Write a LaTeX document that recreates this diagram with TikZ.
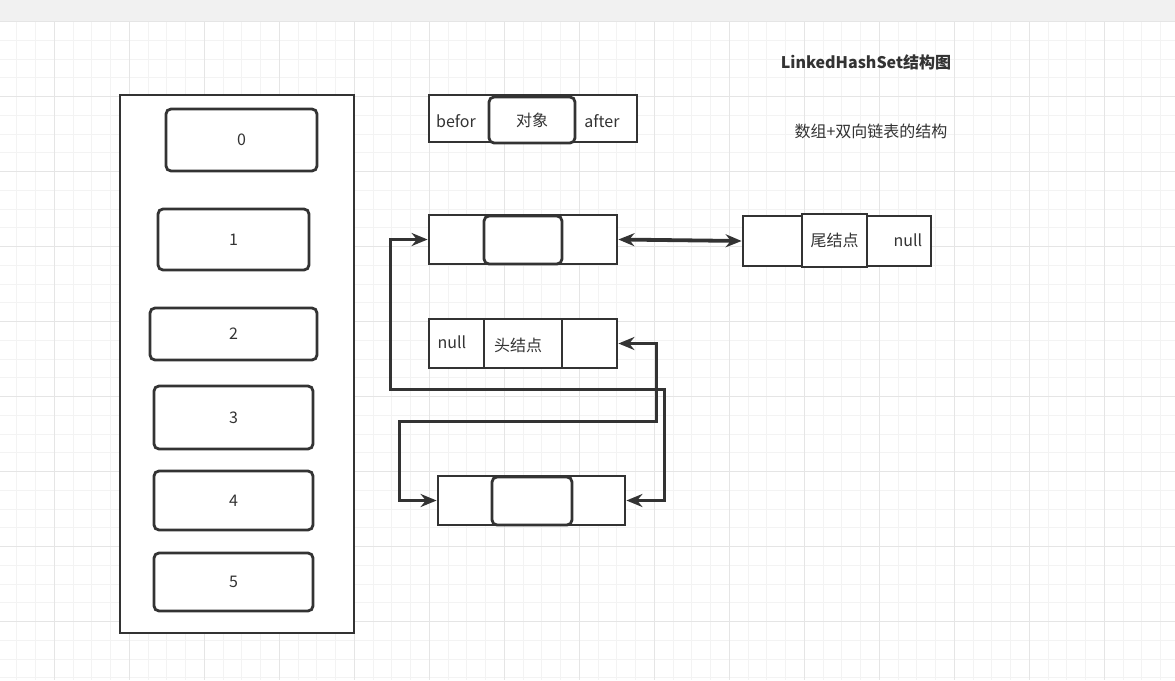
\documentclass[tikz,border=0pt]{standalone}
\usepackage{fontspec}
\setmainfont{Noto Sans CJK SC}
\usepackage{tikz}
\usetikzlibrary{arrows.meta,positioning,calc}
\definecolor{inkcol}{RGB}{51,51,51}
\definecolor{minorcol}{RGB}{243,243,243}
\definecolor{majorcol}{RGB}{229,229,229}
\definecolor{barcol}{RGB}{241,241,241}

\begin{document}
\begin{tikzpicture}[x=1pt,y=-1pt,
  font=\fontsize{16}{19}\selectfont,
  box/.style={draw=inkcol,line width=2.8pt,fill=white,inner sep=0pt,text=inkcol},
  slot/.style={box,rounded corners=5pt},
  core/.style={box,rounded corners=5pt},
  lbl/.style={inner sep=0pt,text=inkcol},
  link/.style={draw=inkcol,line width=2.8pt,
    {Stealth[length=16pt,width=13pt]}-{Stealth[length=16pt,width=13pt]}}]
\useasboundingbox (0,0) rectangle (1175,680);
% canvas grid
\fill[white] (0,0) rectangle (1175,680);
\foreach \i in {0,...,62} \draw[minorcol,line width=1pt] (16.8+18.75*\i,21) -- (16.8+18.75*\i,680);
\foreach \j in {0,...,35} \draw[minorcol,line width=1pt] (0,21.7+18.75*\j) -- (1175,21.7+18.75*\j);
\foreach \i in {0,...,15} \draw[majorcol,line width=1pt] (54.3+75*\i,21) -- (54.3+75*\i,680);
\foreach \j in {0,...,8} \draw[majorcol,line width=1pt] (0,21.7+75*\j) -- (1175,21.7+75*\j);
\fill[barcol] (0,0) rectangle (1175,21);
% hash array
\node[box,minimum width=234pt,minimum height=538pt] (arr) at (237,364) {};
\node[slot,minimum width=151pt,minimum height=62pt] (s0) at (241.5,140) {0};
\node[slot,minimum width=151pt,minimum height=61pt] (s1) at (233.5,239.5) {1};
\node[slot,minimum width=167pt,minimum height=52pt] (s2) at (233.5,334) {2};
\node[slot,minimum width=159pt,minimum height=63pt] (s3) at (233.5,417.5) {3};
\node[slot,minimum width=159pt,minimum height=59pt] (s4) at (233.5,500.5) {4};
\node[slot,minimum width=159pt,minimum height=58pt] (s5) at (233.5,582) {5};
% legend entry
\node[box,minimum width=208pt,minimum height=47pt] (leg) at (533,118.5) {};
\node[core,minimum width=86pt,minimum height=46pt] (legcore) at (532,120) {对象};
\node[lbl] (befor) at (456,121) {befor};
\node[lbl] (after) at (602,121) {after};
% entry linked to the tail
\node[box,minimum width=188pt,minimum height=49pt] (nA) at (523,239.5) {};
\node[core,minimum width=78pt,minimum height=48pt] (nAcore) at (523,240) {};
% tail entry
\node[box,minimum width=188pt,minimum height=50pt] (nT) at (837,241) {};
\node[box,minimum width=65pt,minimum height=53pt] (nTmid) at (834.5,240.5) {尾结点};
\node[lbl] (tnull) at (908,240) {null};
% head entry
\node[box,minimum width=55pt,minimum height=49pt] (hL) at (456.5,343.5) {};
\node[box,minimum width=78pt,minimum height=49pt] (hM) at (523,343.5) {};
\node[box,minimum width=55pt,minimum height=49pt] (hR) at (589.5,343.5) {};
\node[lbl] (hnull) at (452,342) {null};
\node[lbl] (hhead) at (518,345) {头结点};
% bottom entry
\node[box,minimum width=187pt,minimum height=49pt] (nB) at (531.5,500.5) {};
\node[core,minimum width=80pt,minimum height=48pt] (nBcore) at (532,501) {};
% links
\draw[link,line width=3.8pt] (nA.east) -- (nT.west);
\draw[link] (nA.west) -- ++(-37,0) -- ++(0,150) -| ([xshift=38pt]nB.east) -- (nB.east);
\draw[link] (hR.east) -- ++(38,0) -- ++(0,78) -| ([xshift=-37pt]nB.west) -- (nB.west);
% captions
\node[lbl,font=\fontsize{16}{19}\selectfont\bfseries] (title) at (866,62) {LinkedHashSet结构图};
\node[lbl] (subtitle) at (871,131) {数组+双向链表的结构};
\end{tikzpicture}
\end{document}
